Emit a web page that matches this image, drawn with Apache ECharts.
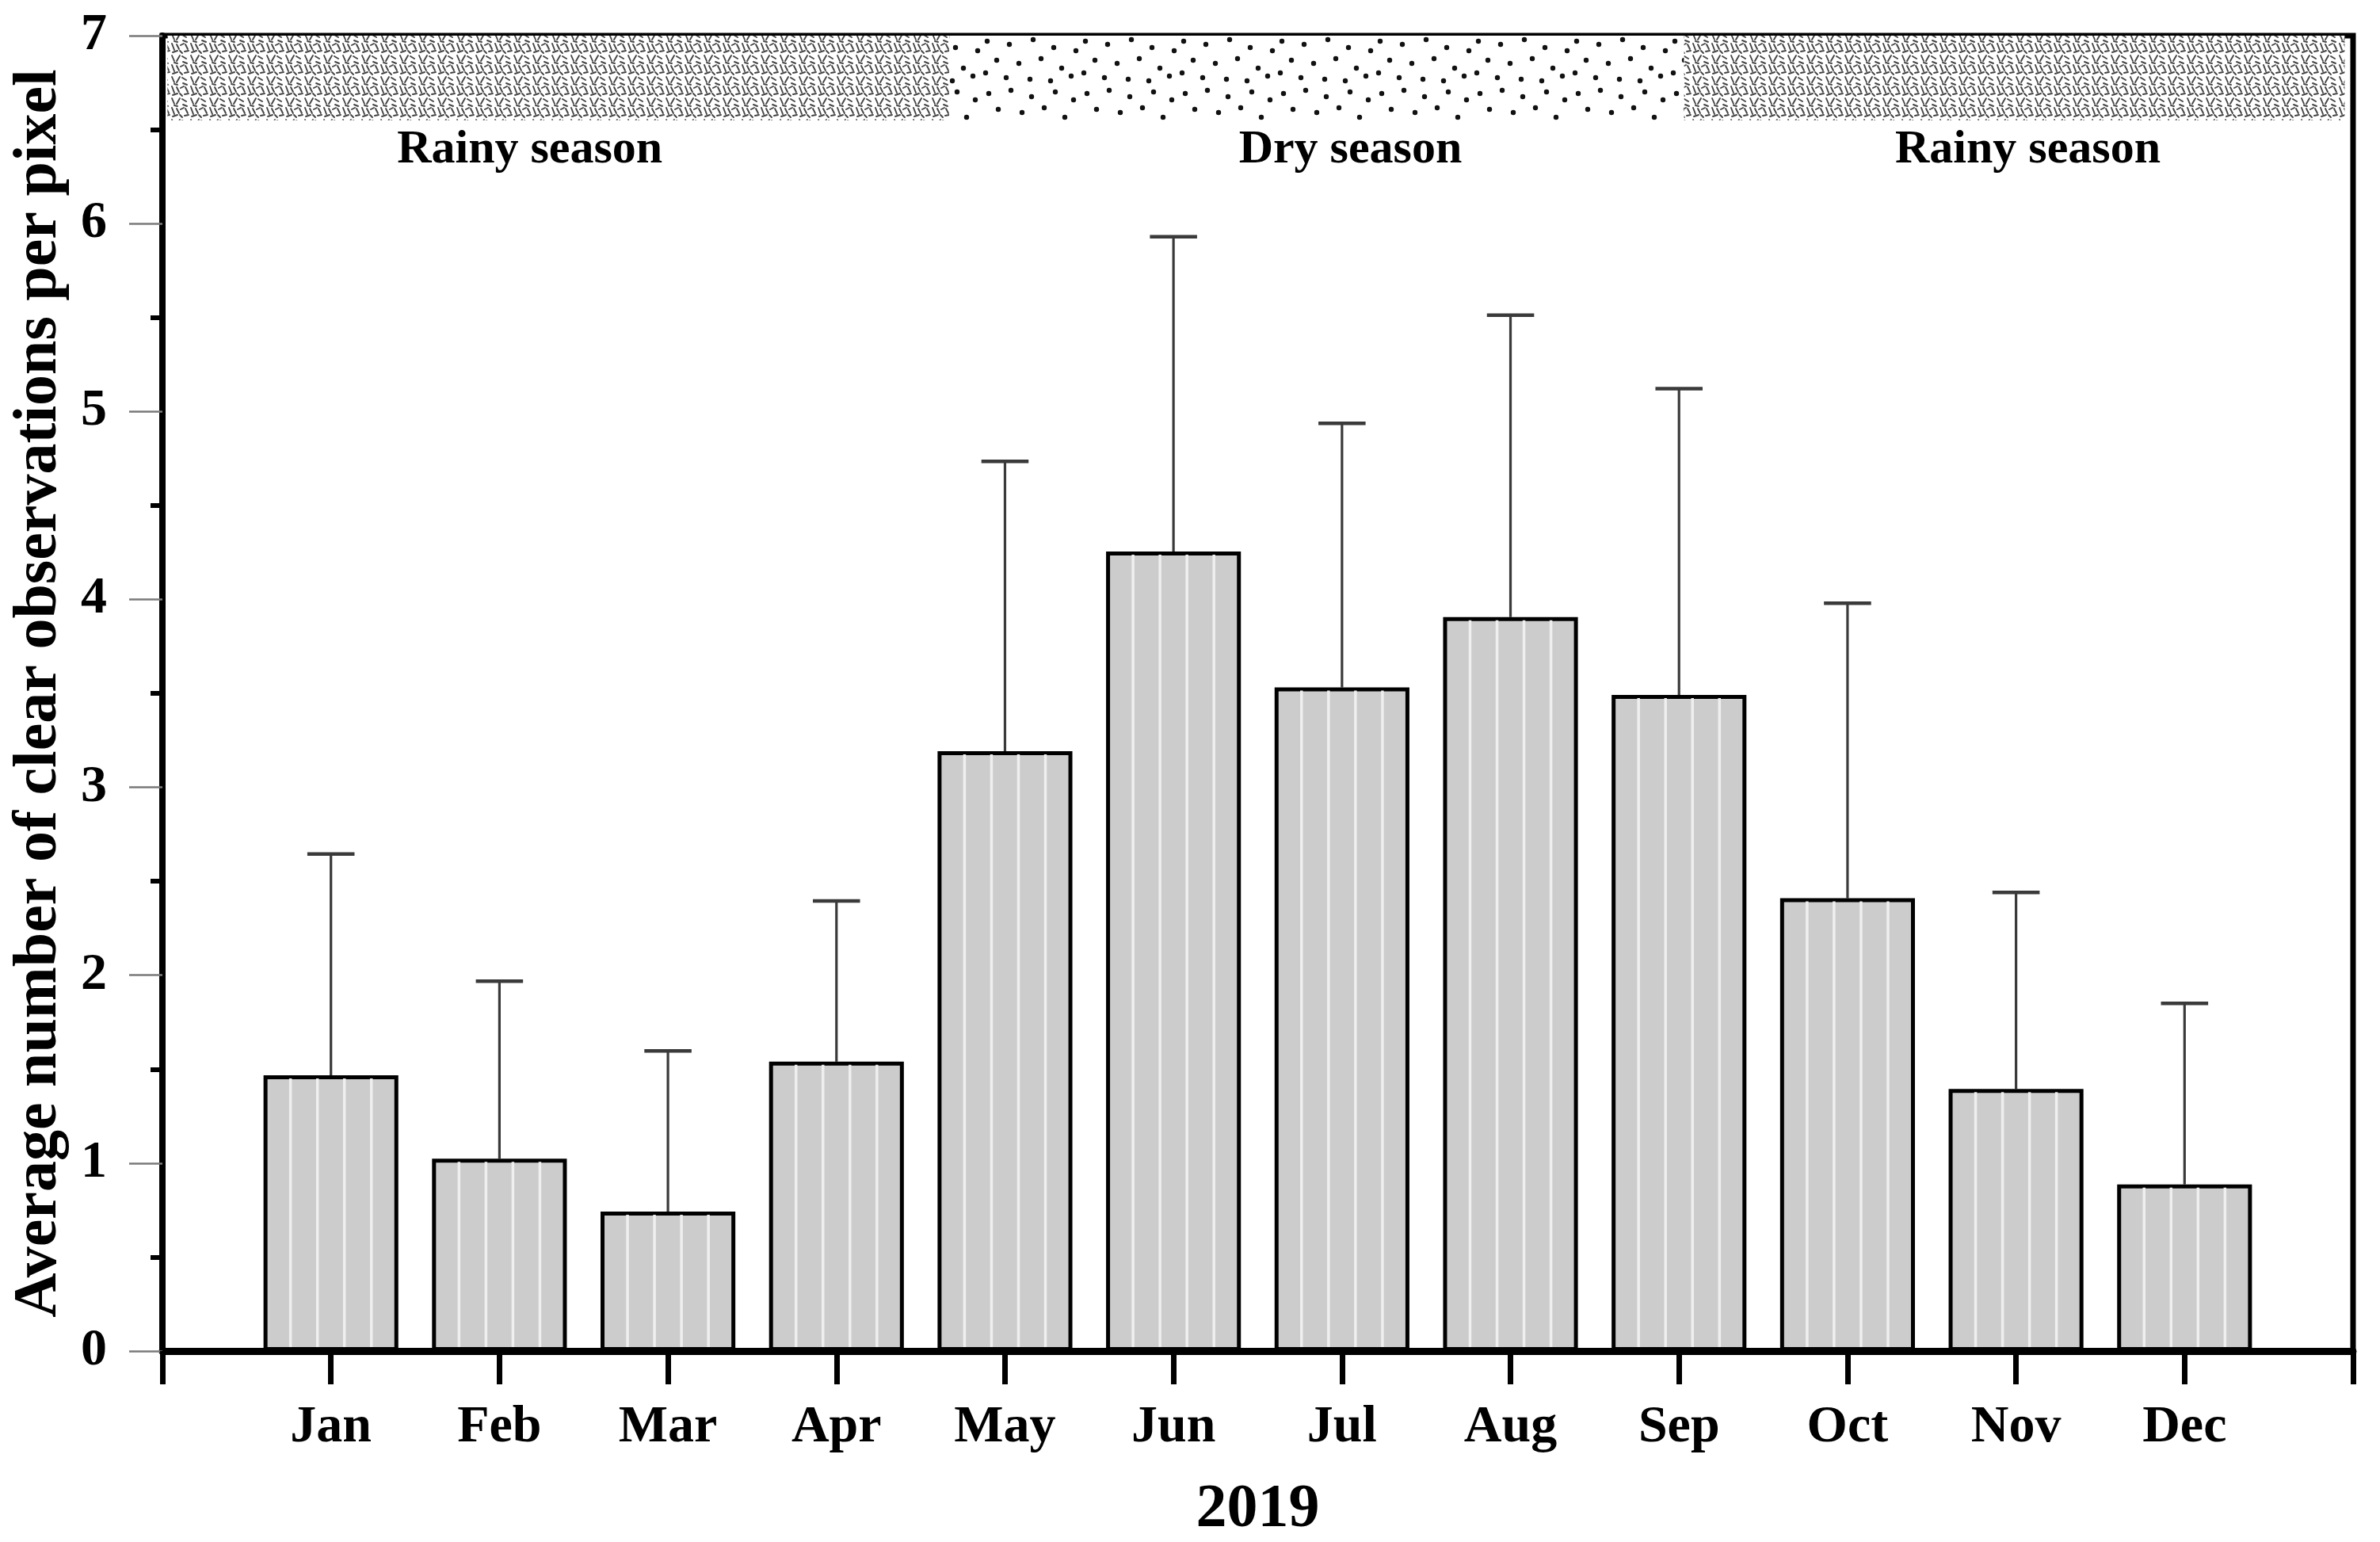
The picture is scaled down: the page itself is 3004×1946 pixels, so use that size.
<!DOCTYPE html>
<html>
<head>
<meta charset="utf-8">
<script src="https://cdn.jsdelivr.net/npm/echarts@6/dist/echarts.min.js"></script>
<style>
html,body{margin:0;padding:0;background:#ffffff;}
#chart{width:3004px;height:1946px;}
</style>
</head>
<body>
<div id="chart"></div>
<script>
// ---------- data ----------
const months = ['Jan','Feb','Mar','Apr','May','Jun','Jul','Aug','Sep','Oct','Nov','Dec'];
const meanValues  = [1.467, 1.024, 0.742, 1.540, 3.192, 4.255, 3.532, 3.906, 3.492, 2.410, 1.395, 0.887];
const upperValues = [2.645, 1.968, 1.597, 2.395, 4.734, 5.930, 4.937, 5.513, 5.121, 3.980, 2.440, 1.850];
const yTickMin = 0, yTickMax = 7, yTickStep = 1;
const seasonNames  = ['Rainy season', 'Dry season', 'Rainy season'];
const seasonKinds  = ['rainy', 'dry', 'rainy'];
const seasonFrom   = [0.03, 4.67, 9.03];
const seasonTo     = [4.67, 9.03, 12.95];
const seasonLabelX = [2.18, 7.05, 11.07];
const seasonLabelY = 6.39;
const seasonBandBottom = 6.55;
const xAxisTitle = '2019';
const yAxisTitle = 'Average number of clear observations per pixel';

// ---------- fill patterns ----------
function rainyPattern() {
  const c = document.createElement('canvas');
  c.width = 24; c.height = 27;
  const g = c.getContext('2d');
  g.fillStyle = '#ffffff'; g.fillRect(0, 0, 24, 27);
  g.strokeStyle = '#444444'; g.lineWidth = 1.9; g.lineCap = 'round';
  const segs = [
    [1, 1, 4, 9], [7, 2, 10, 8], [12, 3, 16, 1], [18, 2, 21, 8],
    [2, 12, 8, 10], [11, 10, 14, 13], [17, 11, 22, 10],
    [1, 16, 4, 23], [7, 23, 11, 16], [14, 17, 19, 20],
    [4, 25, 8, 26], [15, 24, 20, 26]
  ];
  segs.forEach(s => { g.beginPath(); g.moveTo(s[0], s[1]); g.lineTo(s[2], s[3]); g.stroke(); });
  return c;
}
function dryPattern() {
  const c = document.createElement('canvas');
  c.width = 124; c.height = 108;
  const g = c.getContext('2d');
  g.fillStyle = '#ffffff'; g.fillRect(0, 0, 124, 108);
  g.fillStyle = '#111111';
  const pts = [
    [8, 10], [36, 6], [62, 14], [92, 8], [115, 18],
    [20, 30], [50, 34], [78, 28], [104, 40],
    [6, 52], [34, 56], [64, 50], [90, 60], [118, 64],
    [18, 76], [46, 80], [74, 74], [100, 86],
    [30, 98], [60, 100], [86, 102], [112, 96], [4, 92]
  ];
  pts.forEach(p => { g.beginPath(); g.arc(p[0], p[1], 3.2, 0, Math.PI * 2); g.fill(); });
  return c;
}
const patterns = {
  rainy: { image: rainyPattern(), repeat: 'repeat' },
  dry:   { image: dryPattern(),   repeat: 'repeat' }
};

const FONT = "'Liberation Serif', 'Times New Roman', serif";

const barData = months.map((m, i) => [i + 1, meanValues[i]]);
const errData = months.map((m, i) => [i + 1, meanValues[i], upperValues[i]]);

const chart = echarts.init(document.getElementById('chart'), null, { renderer: 'canvas' });

chart.setOption({
  animation: false,
  backgroundColor: '#ffffff',
  grid: {
    left: 205, right: 34, top: 45, bottom: 241,
    containLabel: false, outerBoundsMode: 'none',
    show: true, borderColor: '#000000', borderWidth: 7, backgroundColor: 'transparent'
  },
  xAxis: {
    type: 'value', min: 0, max: 13, interval: 1,
    axisLine: { show: true, onZero: false, lineStyle: { color: '#000000', width: 9 } },
    axisTick: { show: true, inside: false, length: 42, lineStyle: { color: '#000000', width: 7 } },
    axisLabel: {
      margin: 64, color: '#000000', fontFamily: FONT, fontWeight: 'bold', fontSize: 66,
      formatter: v => months[v - 1] || ''
    },
    splitLine: { show: false },
    name: xAxisTitle, nameLocation: 'middle', nameGap: 162,
    nameTextStyle: { color: '#000000', fontFamily: FONT, fontWeight: 'bold', fontSize: 78 }
  },
  yAxis: {
    type: 'value', min: yTickMin, max: yTickMax, interval: yTickStep,
    axisLine: { show: true, lineStyle: { color: '#000000', width: 8 } },
    axisTick: { show: true, inside: false, length: 42, lineStyle: { color: '#7a7a7a', width: 2.5 } },
    minorTick: { show: true, splitNumber: 2, length: 15, lineStyle: { color: '#000000', width: 6 } },
    axisLabel: { margin: 70, color: '#000000', fontFamily: FONT, fontWeight: 'bold', fontSize: 66 },
    splitLine: { show: false },
    minorSplitLine: { show: false },
    name: yAxisTitle, nameLocation: 'middle', nameGap: 116, nameRotate: 90,
    nameTextStyle: { color: '#000000', fontFamily: FONT, fontWeight: 'bold', fontSize: 78 }
  },
  series: [
    {
      name: 'bands', type: 'scatter', symbolSize: 0, z: 1, silent: true,
      itemStyle: { opacity: 1 },
      data: seasonLabelX.map((x, i) => ({ name: seasonNames[i], value: [x, seasonLabelY] })),
      label: {
        show: true, position: 'inside', formatter: p => p.name, opacity: 1,
        color: '#000000', fontFamily: FONT, fontWeight: 'bold', fontSize: 60
      },
      markArea: {
        silent: true,
        data: seasonNames.map((n, i) => [
          { xAxis: seasonFrom[i], yAxis: seasonBandBottom, itemStyle: { color: patterns[seasonKinds[i]], borderWidth: 0, opacity: 1 } },
          { xAxis: seasonTo[i], yAxis: yTickMax }
        ])
      }
    },
    {
      name: 'error', type: 'custom', z: 1, silent: true,
      data: errData,
      encode: { x: 0, y: [1, 2] },
      renderItem: function (params, api) {
        const x = api.value(0);
        const lo = api.coord([x, api.value(1)]);
        const hi = api.coord([x, api.value(2)]);
        const cw = api.size([0.28, 0])[0] / 2;
        return {
          type: 'group',
          children: [
            { type: 'line', shape: { x1: lo[0], y1: lo[1], x2: hi[0], y2: hi[1] }, style: { stroke: '#3a3a3a', lineWidth: 3.2 } },
            { type: 'line', shape: { x1: hi[0] - cw, y1: hi[1], x2: hi[0] + cw, y2: hi[1] }, style: { stroke: '#3a3a3a', lineWidth: 4.5 } }
          ]
        };
      }
    },
    {
      name: 'mean', type: 'bar', z: 2, barWidth: '80%',
      data: barData,
      itemStyle: { color: '#cccccc', borderColor: '#000000', borderWidth: 5 }
    },
    {
      name: 'stripes', type: 'custom', z: 3, silent: true,
      data: barData,
      renderItem: function (params, api) {
        const x = api.value(0), v = api.value(1);
        const p0 = api.coord([x, 0]);
        const p1 = api.coord([x, v]);
        const w = api.size([0.8, 0])[0];
        const children = [];
        for (let k = 1; k < 5; k++) {
          const xx = p0[0] - w / 2 + w * k / 5;
          children.push({ type: 'line', shape: { x1: xx, y1: p1[1] + 4, x2: xx, y2: p0[1] - 5 }, style: { stroke: '#efefef', lineWidth: 3.5 } });
        }
        return { type: 'group', children: children };
      }
    }
  ]
});
</script>
</body>
</html>
